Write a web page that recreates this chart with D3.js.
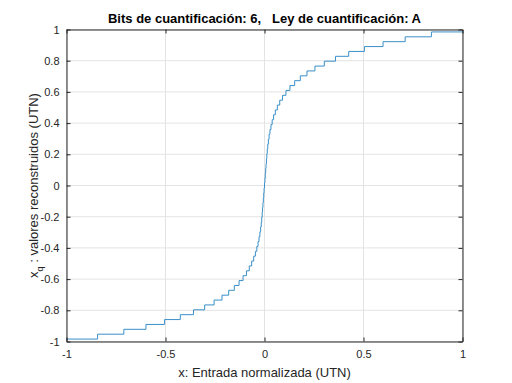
<!DOCTYPE html>
<html><head><meta charset="utf-8">
<script src="https://cdn.jsdelivr.net/npm/d3@7"></script>
<style>body{margin:0;background:#fff}svg{display:block}text{font-family:"Liberation Sans",Arial,sans-serif}</style>
</head><body><svg id="c" width="512" height="383"></svg>
<script>
const stepX = [-0.8430,-0.7105,-0.5988,-0.5046,-0.4253,-0.3585,-0.3021,-0.2546,-0.2146,-0.1809,-0.1524,-0.1285,-0.1083,-0.0912,-0.0769,-0.0648,-0.0546,-0.0460,-0.0388,-0.0327,-0.0276,-0.0232,-0.0196,-0.0165,-0.0139,-0.0117,-0.0098,-0.0078,-0.0059,-0.0039,-0.0020,0,
 0.0020,0.0039,0.0059,0.0078,0.0098,0.0117,0.0139,0.0165,0.0196,0.0232,0.0276,0.0327,0.0388,0.0460,0.0546,0.0648,0.0769,0.0912,0.1083,0.1285,0.1524,0.1809,0.2146,0.2546,0.3021,0.3585,0.4253,0.5046,0.5988,0.7105,0.8430];
// Reconstructed output levels, one per step
const stepY = [-0.9844,-0.9531,-0.9219,-0.8906,-0.8594,-0.8281,-0.7969,-0.7656,-0.7344,-0.7031,-0.6719,-0.6406,-0.6094,-0.5781,-0.5469,-0.5156,-0.4844,-0.4531,-0.4219,-0.3906,-0.3594,-0.3281,-0.2969,-0.2656,-0.2344,-0.2031,-0.1719,-0.1406,-0.1094,-0.0781,-0.0469,-0.0156,
 0.0156,0.0469,0.0781,0.1094,0.1406,0.1719,0.2031,0.2344,0.2656,0.2969,0.3281,0.3594,0.3906,0.4219,0.4531,0.4844,0.5156,0.5469,0.5781,0.6094,0.6406,0.6719,0.7031,0.7344,0.7656,0.7969,0.8281,0.8594,0.8906,0.9219,0.9531,0.9844];
const xTicks = [-1,-0.5,0,0.5,1];
const yTicks = [-1,-0.8,-0.6,-0.4,-0.2,0,0.2,0.4,0.6,0.8,1];
const xDomain = [-1,1], yDomain = [-1,1];

const svg = d3.select("#c");
const L=66.5, R=462.5, T=29.5, B=341.5;
const x = d3.scaleLinear().domain(xDomain).range([L,R]);
const y = d3.scaleLinear().domain(yDomain).range([B,T]);
const axc = "#262626";

// grid
svg.append("g").selectAll("line").data(xTicks).join("line")
  .attr("x1",d=>x(d)).attr("x2",d=>x(d)).attr("y1",T).attr("y2",B)
  .attr("stroke","#e3e3e3").attr("stroke-width",1);
svg.append("g").selectAll("line").data(yTicks).join("line")
  .attr("y1",d=>y(d)).attr("y2",d=>y(d)).attr("x1",L).attr("x2",R)
  .attr("stroke","#e3e3e3").attr("stroke-width",1);

// data
const pts = [[xDomain[0], stepY[0]]];
stepX.forEach((t,i)=>pts.push([t, stepY[i+1]]));
pts.push([xDomain[1], stepY[stepY.length-1]]);
svg.append("path").datum(pts)
  .attr("d", d3.line().x(d=>x(d[0])).y(d=>y(d[1])).curve(d3.curveStepAfter))
  .attr("fill","none").attr("stroke","#3a8fc8").attr("stroke-width",1);

// axes
const fmt = d=>String(d);
const xa = svg.append("g").attr("transform",`translate(0,${B})`)
  .call(d3.axisBottom(x).tickValues(xTicks).tickFormat(fmt).tickSizeInner(-4).tickSizeOuter(0).tickPadding(9));
const xa2 = svg.append("g").attr("transform",`translate(0,${T})`)
  .call(d3.axisTop(x).tickValues(xTicks).tickFormat("").tickSizeInner(-4).tickSizeOuter(0));
const ya = svg.append("g").attr("transform",`translate(${L},0)`)
  .call(d3.axisLeft(y).tickValues(yTicks).tickFormat(fmt).tickSizeInner(-4).tickSizeOuter(0).tickPadding(7));
const ya2 = svg.append("g").attr("transform",`translate(${R},0)`)
  .call(d3.axisRight(y).tickValues(yTicks).tickFormat("").tickSizeInner(-4).tickSizeOuter(0));
[xa,xa2,ya,ya2].forEach(g=>{
  g.select(".domain").attr("stroke",axc);
  g.selectAll(".tick line").attr("stroke",axc);
  g.selectAll("text").attr("fill",axc).style("font-size","11px").style("font-family","'Liberation Sans',Arial,sans-serif");
});

// title
svg.append("text").attr("x",(L+R)/2).attr("y",23).attr("text-anchor","middle")
  .attr("xml:space","preserve").style("white-space","pre")
  .style("font-size","13px").style("font-weight","bold").attr("fill","#000")
  .text("Bits de cuantificación: 6,   Ley de cuantificación: A");

// x label
svg.append("text").attr("x",(L+R)/2).attr("y",377).attr("text-anchor","middle")
  .style("font-size","13px").attr("fill",axc).text("x: Entrada normalizada (UTN)");

// y label
const yl = svg.append("text").attr("transform",`translate(38,${(T+B)/2}) rotate(-90)`)
  .attr("text-anchor","middle").style("font-size","13px").attr("fill",axc);
yl.append("tspan").text("x");
yl.append("tspan").attr("dy",5).style("font-size","9px").text("q");
yl.append("tspan").attr("dy",-5).text(" : valores reconstruidos (UTN)");
</script></body></html>
